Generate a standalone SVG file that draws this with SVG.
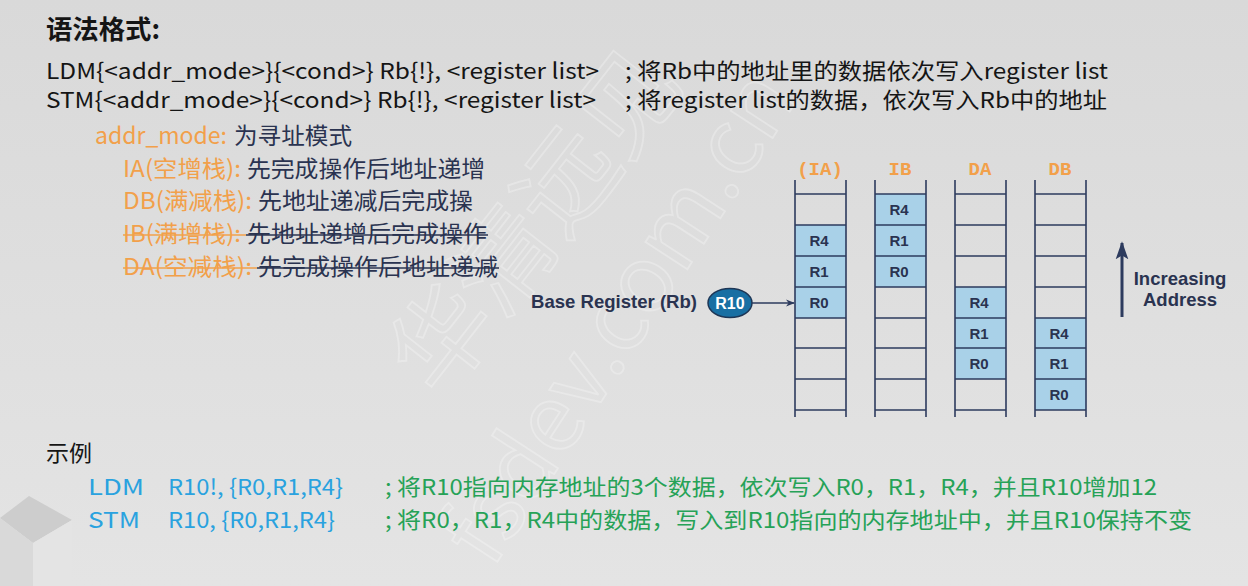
<svg xmlns="http://www.w3.org/2000/svg" width="1248" height="586" viewBox="0 0 1248 586">
<defs>
<linearGradient id="bg" x1="0" y1="0" x2="0" y2="1">
<stop offset="0" stop-color="#d9d9d9"/>
<stop offset="1" stop-color="#e4e4e4"/>
</linearGradient>
<marker id="ah" viewBox="0 0 10 10" refX="9" refY="5" markerWidth="9" markerHeight="9" markerUnits="userSpaceOnUse" orient="auto">
<path d="M0,1 L10,5 L0,9 L3,5 Z" fill="#2d3b5e"/>
</marker>
<marker id="ahUp" viewBox="0 0 10 10" refX="9" refY="5" markerWidth="6" markerHeight="6" orient="auto">
<path d="M0,1.5 L10,5 L0,8.5 L2,5 Z" fill="#2d3b5e"/>
</marker>
<style>
.cn{font-family:"Noto Sans CJK SC","Noto Sans",sans-serif;}
.blk{fill:#151515;font-size:22px;}
.or{fill:#f2a04a;}
.nv{fill:#2a3350;}
.md{font-size:23px;}
.bl{fill:#2aa2df;font-size:22px;}
.gr{fill:#26a257;font-size:22px;}
.strO{stroke:#f2a04a;stroke-width:1.6;}
.strN{stroke:#2a3350;stroke-width:1.6;}
.cell{fill:#a9d1e8;}
.ln{stroke:#2d3b5e;stroke-width:1.6;fill:none;}
.lbl{font-family:"Liberation Sans",Arial,sans-serif;font-weight:bold;font-size:15px;fill:#2a3350;text-anchor:middle;}
.hdr{font-family:"Liberation Mono","Courier New",monospace;font-weight:bold;font-size:19px;fill:#f2a04a;text-anchor:middle;}
.big{font-family:"Liberation Sans",Arial,sans-serif;font-weight:bold;font-size:18.5px;fill:#2a3350;}
.wm{font-family:"Noto Sans CJK SC","Noto Sans",sans-serif;fill:none;stroke:#ffffff;stroke-opacity:0.28;stroke-width:1.8;}
</style>
</defs>
<rect width="1248" height="586" fill="url(#bg)"/>
<!-- bottom-left decorative cube -->
<g id="cube">
<polygon points="0,518 29,496 72,520 33,543" fill="#cdcdcd"/>
<polygon points="0,518 33,543 33,586 0,586" fill="#d9d9d9"/>
<polygon points="33,543 72,520 72,586 33,586" fill="#e4e4e4"/>
</g>
<!-- watermark -->
<g id="watermark">
<text class="wm" font-size="100" transform="translate(440,400) rotate(-52)">华清远见</text>
<text class="wm" font-size="92" transform="translate(492,570) rotate(-57)">fsdev.com.cn</text>
</g>
<!-- syntax text -->
<g id="syntax">
<text class="cn" x="46" y="39" font-size="26" font-weight="bold" fill="#151515" textLength="114" lengthAdjust="spacingAndGlyphs">语法格式:</text>
<text class="cn blk" x="46" y="79" textLength="553" lengthAdjust="spacingAndGlyphs">LDM{&lt;addr_mode&gt;}{&lt;cond&gt;} Rb{!}, &lt;register list&gt;</text>
<text class="cn blk" x="625" y="79" textLength="483" lengthAdjust="spacingAndGlyphs">; 将Rb中的地址里的数据依次写入register list</text>
<text class="cn blk" x="46" y="108" textLength="550" lengthAdjust="spacingAndGlyphs">STM{&lt;addr_mode&gt;}{&lt;cond&gt;} Rb{!}, &lt;register list&gt;</text>
<text class="cn blk" x="625" y="108" textLength="482" lengthAdjust="spacingAndGlyphs">; 将register list的数据，依次写入Rb中的地址</text>
</g>
<g id="addr-modes">
<text class="cn md or" x="95" y="144" textLength="132" lengthAdjust="spacingAndGlyphs">addr_mode:</text>
<text class="cn md nv" x="234" y="144" textLength="118" lengthAdjust="spacingAndGlyphs">为寻址模式</text>
<text class="cn md or" x="123" y="177" textLength="118" lengthAdjust="spacingAndGlyphs">IA(空增栈):</text>
<text class="cn md nv" x="247" y="177" textLength="238" lengthAdjust="spacingAndGlyphs">先完成操作后地址递增</text>
<text class="cn md or" x="123" y="209" textLength="129" lengthAdjust="spacingAndGlyphs">DB(满减栈):</text>
<text class="cn md nv" x="258" y="209" textLength="215" lengthAdjust="spacingAndGlyphs">先地址递减后完成操</text>
<text class="cn md or" x="123" y="242" textLength="118" lengthAdjust="spacingAndGlyphs">IB(满增栈):</text>
<text class="cn md nv" x="247" y="242" textLength="240" lengthAdjust="spacingAndGlyphs">先地址递增后完成操作</text>
<line class="strO" x1="123" y1="235" x2="246" y2="235"/>
<line class="strN" x1="246" y1="235" x2="488" y2="235"/>
<text class="cn md or" x="123" y="275" textLength="129" lengthAdjust="spacingAndGlyphs">DA(空减栈):</text>
<text class="cn md nv" x="258" y="275" textLength="240" lengthAdjust="spacingAndGlyphs">先完成操作后地址递减</text>
<line class="strO" x1="123" y1="268" x2="257" y2="268"/>
<line class="strN" x1="257" y1="268" x2="499" y2="268"/>
</g>
<!-- examples -->
<g id="examples">
<text class="cn" x="46" y="461" font-size="22" fill="#151515" textLength="46" lengthAdjust="spacingAndGlyphs">示例</text>
<text class="cn bl" x="88" y="495" textLength="56" lengthAdjust="spacingAndGlyphs">LDM</text>
<text class="cn bl" x="168" y="495" textLength="175" lengthAdjust="spacingAndGlyphs">R10!, {R0,R1,R4}</text>
<text class="cn gr" x="385" y="495" textLength="772" lengthAdjust="spacingAndGlyphs">; 将R10指向内存地址的3个数据，依次写入R0，R1，R4，并且R10增加12</text>
<text class="cn bl" x="88" y="528" textLength="52" lengthAdjust="spacingAndGlyphs">STM</text>
<text class="cn bl" x="168" y="528" textLength="167" lengthAdjust="spacingAndGlyphs">R10, {R0,R1,R4}</text>
<text class="cn gr" x="385" y="528" textLength="807" lengthAdjust="spacingAndGlyphs">; 将R0，R1，R4中的数据，写入到R10指向的内存地址中，并且R10保持不变</text>
</g>
<!-- stacks -->
<g id="stack-IA">
<text class="hdr" x="820" y="175">(IA)</text>
<rect class="cell" x="795" y="225" width="51" height="93"/>
<path class="ln" d="M795,180 V417 M846,180 V417 M795,194 H846 M795,225 H846 M795,256 H846 M795,287 H846 M795,318 H846 M795,348 H846 M795,379 H846 M795,410 H846"/>
<text class="lbl" x="819" y="246">R4</text>
<text class="lbl" x="819" y="277">R1</text>
<text class="lbl" x="819" y="308">R0</text>
</g>
<g id="stack-IB">
<text class="hdr" x="900" y="175">IB</text>
<rect class="cell" x="875" y="194" width="51" height="93"/>
<path class="ln" d="M875,180 V417 M926,180 V417 M875,194 H926 M875,225 H926 M875,256 H926 M875,287 H926 M875,318 H926 M875,348 H926 M875,379 H926 M875,410 H926"/>
<text class="lbl" x="899" y="215">R4</text>
<text class="lbl" x="899" y="246">R1</text>
<text class="lbl" x="899" y="277">R0</text>
</g>
<g id="stack-DA">
<text class="hdr" x="980" y="175">DA</text>
<rect class="cell" x="955" y="287" width="51" height="92"/>
<path class="ln" d="M955,180 V417 M1006,180 V417 M955,194 H1006 M955,225 H1006 M955,256 H1006 M955,287 H1006 M955,318 H1006 M955,348 H1006 M955,379 H1006 M955,410 H1006"/>
<text class="lbl" x="979" y="308">R4</text>
<text class="lbl" x="979" y="339">R1</text>
<text class="lbl" x="979" y="369">R0</text>
</g>
<g id="stack-DB">
<text class="hdr" x="1060" y="175">DB</text>
<rect class="cell" x="1035" y="318" width="51" height="92"/>
<path class="ln" d="M1035,180 V417 M1086,180 V417 M1035,194 H1086 M1035,225 H1086 M1035,256 H1086 M1035,287 H1086 M1035,318 H1086 M1035,348 H1086 M1035,379 H1086 M1035,410 H1086"/>
<text class="lbl" x="1059" y="339">R4</text>
<text class="lbl" x="1059" y="369">R1</text>
<text class="lbl" x="1059" y="400">R0</text>
</g>
<g id="base-register">
<text class="big" x="531" y="308" textLength="166" lengthAdjust="spacingAndGlyphs">Base Register (Rb)</text>
<ellipse cx="730" cy="303" rx="22" ry="14.5" fill="#186fa3" stroke="#1d3656" stroke-width="1.5"/>
<text x="730" y="309" font-family="Liberation Sans,Arial,sans-serif" font-weight="bold" font-size="16" fill="#ffffff" text-anchor="middle">R10</text>
</g>
<g id="increasing-address">
<text class="big" x="1180" y="285" text-anchor="middle">Increasing</text>
<text class="big" x="1180" y="306" text-anchor="middle">Address</text>
</g>
<g id="connectors">
<line x1="752" y1="303" x2="794" y2="303" stroke="#2d3b5e" stroke-width="1.3" marker-end="url(#ah)"/>
<line x1="1122" y1="317" x2="1122" y2="243" stroke="#2d3b5e" stroke-width="3" marker-end="url(#ahUp)"/>
</g>
</svg>
